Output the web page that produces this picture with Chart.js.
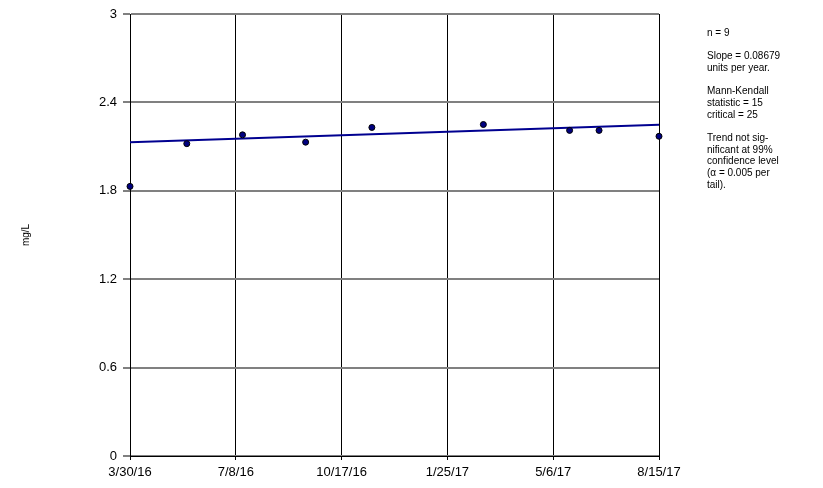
<!DOCTYPE html>
<html>
<head>
<meta charset="utf-8">
<script src="https://cdn.jsdelivr.net/npm/chart.js@4"></script>
<style>
  html, body { margin: 0; padding: 0; background: #fff; }
  #wrap { width: 823px; height: 488px; position: relative; }
</style>
</head>
<body>
<div id="wrap"><canvas id="trend-chart"></canvas></div>
<script>
// dados
const sampleDates = ['2016-03-30', '2016-05-23', '2016-07-15', '2016-09-13', '2016-11-15',
  '2017-03-01', '2017-05-22', '2017-06-19', '2017-08-15'];
const sampleValues = [1.83, 2.12, 2.18, 2.13, 2.23, 2.25, 2.21, 2.21, 2.17];
const trendDates = ['2016-03-30', '2017-08-15'];
const trendValues = [2.129, 2.248];
const xTickLabels = ['3/30/16', '7/8/16', '10/17/16', '1/25/17', '5/6/17', '8/15/17'];
const yTicks = [0, 0.6, 1.2, 1.8, 2.4, 3];
const statsLines = ['n = 9', '', 'Slope = 0.08679', 'units per year.', '',
  'Mann-Kendall', 'statistic = 15', 'critical = 25', '',
  'Trend not sig-', 'nificant at 99%', 'confidence level', '(\u03b1 = 0.005 per', 'tail).'];

// dias a partir da primeira data
const startDay = Date.UTC(2016, 2, 30);
function toDays(s) {
  const p = s.split('-');
  return (Date.UTC(+p[0], +p[1] - 1, +p[2]) - startDay) / 86400000;
}
const points = sampleDates.map((d, i) => ({ x: toDays(d), y: sampleValues[i] }));
const trend = trendDates.map((d, i) => ({ x: toDays(d), y: trendValues[i] }));
const lastDay = toDays('2017-08-15');
const tickStep = lastDay / (xTickLabels.length - 1);

// texto das estatísticas à direita
const statsText = {
  id: 'statsText',
  afterDraw(chart) {
    const ctx = chart.ctx;
    ctx.save();
    ctx.fillStyle = '#000';
    ctx.font = '10px "Liberation Sans", Arial, sans-serif';
    ctx.textBaseline = 'middle';
    let y = 33;
    for (const line of statsLines) {
      if (line) ctx.fillText(line, 707, y);
      y += 11.7;
    }
    ctx.restore();
  }
};

const chartFont = { family: '"Liberation Sans", Arial, sans-serif', size: 13 };

new Chart(document.getElementById('trend-chart'), {
  type: 'scatter',
  data: {
    datasets: [{
      data: points,
      backgroundColor: '#000080',
      borderColor: '#000',
      borderWidth: 1,
      pointRadius: 3,
      clip: false,
      order: 1
    }, {
      type: 'line',
      data: trend,
      borderColor: '#000090',
      borderWidth: 2,
      pointRadius: 0,
      fill: false,
      order: 2
    }]
  },
  options: {
    responsive: true,
    maintainAspectRatio: false,
    animation: false,
    layout: { padding: { top: 14, right: 164, left: 0, bottom: 0 } },
    plugins: { legend: { display: false }, tooltip: { enabled: false } },
    scales: {
      x: {
        type: 'linear',
        min: 0,
        max: lastDay,
        afterBuildTicks(axis) {
          axis.ticks = xTickLabels.map((t, i) => ({ value: i * tickStep }));
        },
        ticks: {
          color: '#000',
          font: chartFont,
          maxRotation: 0,
          padding: 5,
          callback: (v, i) => xTickLabels[i]
        },
        grid: { color: '#000', lineWidth: 1, tickLength: 4 },
        border: { color: '#000', width: 1 },
        afterFit(axis) { axis.height = 32; }
      },
      y: {
        min: 0,
        max: 3,
        afterBuildTicks(axis) {
          axis.ticks = yTicks.map(v => ({ value: v }));
        },
        ticks: {
          color: '#000',
          font: chartFont,
          padding: 6,
          callback: v => String(v)
        },
        grid: { color: '#808080', lineWidth: 2, tickLength: 7 },
        border: { color: '#000', width: 1 },
        title: {
          display: true,
          text: 'mg/L',
          color: '#000',
          font: { family: '"Liberation Sans", Arial, sans-serif', size: 10 },
          padding: { top: 20, bottom: 0 }
        },
        afterFit(axis) { axis.width = 130; }
      }
    }
  },
  plugins: [statsText]
});
</script>
</body>
</html>
